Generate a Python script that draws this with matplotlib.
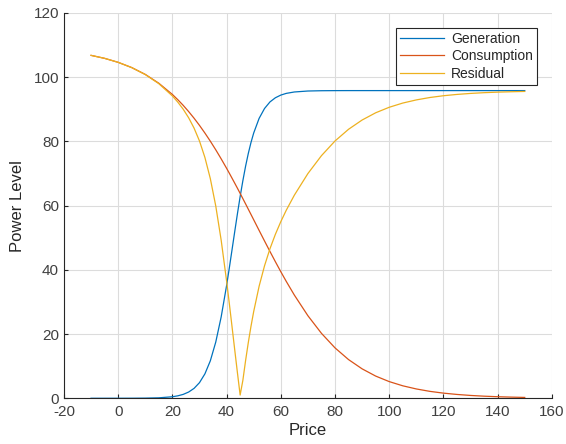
import matplotlib
matplotlib.use("Agg")
import matplotlib.pyplot as plt

plt.rcParams['font.family'] = ['Liberation Sans', 'DejaVu Sans']
plt.rcParams['axes.unicode_minus'] = False

price = [-10, -5, 0, 5, 10, 15, 20, 22, 24, 26, 28, 30, 32, 34, 36, 38,
         40, 41, 42, 43, 44, 45, 46, 47, 48, 49, 50, 52, 54, 56, 58, 60,
         62, 65, 70, 75, 80, 85, 90, 95, 100, 105, 110, 115, 120, 125,
         130, 135, 140, 145, 150]

generation = [0.0, 0.0, 0.004, 0.013, 0.044, 0.14, 0.47, 0.76, 1.21, 1.94, 3.08, 4.86, 7.60, 11.66, 17.48, 25.32,
              35.10, 40.54, 46.19, 51.88, 57.46, 62.79, 67.73, 72.22, 76.19, 79.64, 82.59, 87.15, 90.23, 92.27, 93.57, 94.40,
              94.93, 95.37, 95.67, 95.76, 95.79, 95.8, 95.8, 95.8, 95.8, 95.8, 95.8, 95.8, 95.8, 95.8,
              95.8, 95.8, 95.8, 95.8, 95.8]

consumption = [106.77, 105.84, 104.60, 102.97, 100.84, 98.09, 94.60, 92.97, 91.20, 89.27, 87.20, 84.97, 82.58, 80.05, 77.37, 74.55,
               71.61, 70.09, 68.54, 66.98, 65.40, 63.79, 62.17, 60.54, 58.89, 57.24, 55.58, 52.26, 48.97, 45.71, 42.52, 39.41,
               36.41, 32.13, 25.70, 20.22, 15.69, 12.04, 9.16, 6.91, 5.19, 3.88, 2.90, 2.15, 1.60, 1.19,
               0.88, 0.65, 0.48, 0.36, 0.26]

residual = [106.77, 105.84, 104.60, 102.96, 100.80, 97.95, 94.13, 92.21, 89.99, 87.34, 84.12, 80.11, 74.98, 68.39, 59.89, 49.23,
            36.51, 29.55, 22.35, 15.10, 7.94, 1.00, 5.56, 11.68, 17.30, 22.40, 27.01, 34.89, 41.26, 46.56, 51.05, 54.99,
            58.52, 63.24, 69.97, 75.54, 80.11, 83.76, 86.64, 88.89, 90.61, 91.92, 92.90, 93.65, 94.20, 94.61,
            94.92, 95.15, 95.32, 95.44, 95.54]

labels = ["Generation", "Consumption", "Residual"]
colors = ["#0072BD", "#D95319", "#EDB120"]

fig = plt.figure(figsize=(5.66, 4.44), dpi=100)
ax = fig.add_axes([0.113, 0.103, 0.862, 0.868])

for y, lab, c in zip([generation, consumption, residual], labels, colors):
    ax.plot(price, y, color=c, lw=0.9, label=lab)

ax.set_xlim(-20, 160)
ax.set_ylim(0, 120)
ax.set_xticks(range(-20, 161, 20))
ax.set_yticks(range(0, 121, 20))
ax.grid(True, color="#dcdcdc", lw=0.8)
ax.set_axisbelow(True)

for s in ["top", "right"]:
    ax.spines[s].set_visible(False)
for s in ["left", "bottom"]:
    ax.spines[s].set_color("#262626")
    ax.spines[s].set_linewidth(0.8)

ax.tick_params(direction="in", length=3, width=0.8, colors="#262626",
               labelcolor="#404040", labelsize=11)
ax.tick_params(axis="x", pad=5)

ax.set_xlabel("Price", fontsize=12, color="#262626", labelpad=3)
ax.set_ylabel("Power Level", fontsize=12, color="#262626", labelpad=6)

leg = ax.legend(loc="upper right", bbox_to_anchor=(0.970, 0.962), fontsize=10,
                frameon=True, fancybox=False, framealpha=1, edgecolor="#262626",
                handlelength=3.2, handletextpad=0.5, labelspacing=0.25,
                borderpad=0.3, borderaxespad=0)
leg.get_frame().set_linewidth(0.8)
for t in leg.get_texts():
    t.set_color("#262626")

fig.savefig("out.png", dpi=100)
